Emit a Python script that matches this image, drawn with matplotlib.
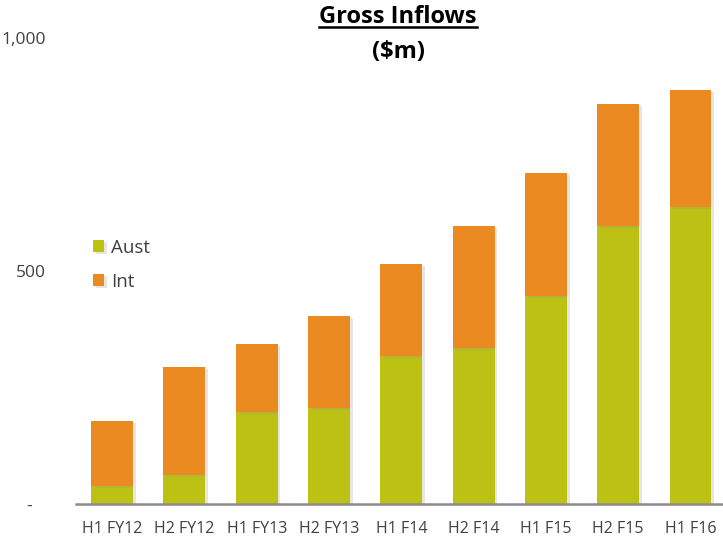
"""Gross Inflows ($m) — stacked bars, Aust vs Int by half-year."""

import matplotlib.pyplot as plt
import matplotlib.patheffects as pe
import numpy as np
from matplotlib.lines import Line2D

plt.rcParams["font.family"] = ["Open Sans", "DejaVu Sans"]

periods = ["H1 FY12", "H2 FY12", "H1 FY13", "H2 FY13", "H1 F14",
           "H2 F14", "H1 F15", "H2 F15", "H1 F16"]
aust = [39, 62, 198, 207, 317, 334, 446, 597, 638]
intl = [140, 233, 145, 196, 198, 263, 265, 261, 250]
ytick_vals = [0, 500, 1000]
ytick_labels = ["-   ", "500", "1,000"]

AUST_COLOR = "#BDC114"
INT_COLOR = "#EC8A22"
TEXT_COLOR = "#404040"

fig = plt.figure(figsize=(7.23, 5.40), dpi=100)
ax = fig.add_axes([76 / 723, 36 / 540, 647 / 723, 466 / 540])

idx = np.arange(len(periods))
shadow = [pe.SimplePatchShadow(offset=(2, -1.5), shadow_rgbFace="#999999", alpha=0.25), pe.Normal()]
b1 = ax.bar(idx, aust, width=0.58, color=AUST_COLOR, label="Aust", zorder=2)
b2 = ax.bar(idx, intl, width=0.58, bottom=aust, color=INT_COLOR, label="Int", zorder=2)
for p in list(b1) + list(b2):
    p.set_path_effects(shadow)

ax.set_xlim(-0.5, 8.45)
ax.set_ylim(0, 1000)
ax.set_xticks(idx)
ax.set_xticklabels(periods, fontsize=11.5, color=TEXT_COLOR)
ax.set_yticks(ytick_vals)
ax.set_yticklabels(ytick_labels, fontsize=12.5, color=TEXT_COLOR)
ax.tick_params(axis="both", length=0)
ax.tick_params(axis="x", pad=12)
ax.tick_params(axis="y", pad=21.5)

for s in ["top", "right", "left"]:
    ax.spines[s].set_visible(False)
ax.spines["bottom"].set_color("#8c8c8c")
ax.spines["bottom"].set_linewidth(1.8)

ax.legend(loc="upper left", bbox_to_anchor=(0.0, 0.605), frameon=False,
          fontsize=13.5, handlelength=0.6, handleheight=0.6, handletextpad=0.35,
          labelspacing=0.85, labelcolor=TEXT_COLOR)

# title with underline on first line
t1 = fig.text(398 / 723, 1 - 17 / 540, "Gross Inflows", ha="center", va="center",
              fontsize=17, fontweight="bold", color="#000000")
fig.text(398 / 723, 1 - 52 / 540, "($m)", ha="center", va="center",
         fontsize=17, fontweight="bold", color="#000000")

fig.canvas.draw()
bb = t1.get_window_extent().transformed(fig.transFigure.inverted())
uy = bb.y0 + 0.003
fig.add_artist(Line2D([bb.x0, bb.x1], [uy, uy], transform=fig.transFigure,
                      color="#000000", linewidth=1.8))

fig.savefig("out.png", dpi=100)
